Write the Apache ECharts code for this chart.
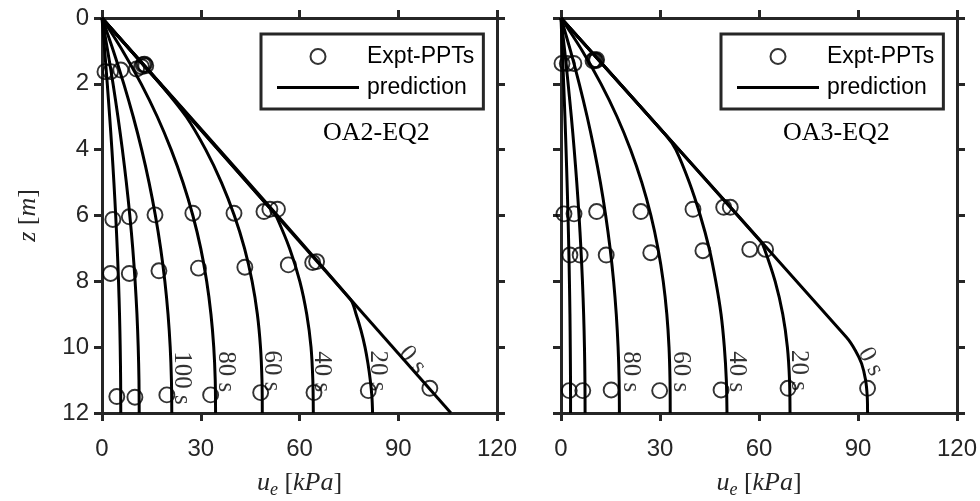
<!DOCTYPE html>
<html>
<head>
<meta charset="utf-8">
<title>Excess pore pressure isochrones</title>
<script src="https://cdn.jsdelivr.net/npm/echarts@6/dist/echarts.min.js"></script>
<style>
  html, body { margin: 0; padding: 0; background: #fff; }
  #chart { width: 980px; height: 501px; }
</style>
</head>
<body>
<div id="chart"></div>
<script>
// axis ticks
const uTicks = [0, 30, 60, 90, 120]
const zTicks = [0, 2, 4, 6, 8, 10, 12]

// ---- OA2-EQ2 (left panel), points are [u_e kPa, z m] ----
const oa2Expt = [
  [0.9, 1.63], [2.6, 1.63], [5.7, 1.58], [10.5, 1.55], [12.0, 1.48], [12.5, 1.42], [12.9, 1.40], [13.3, 1.45],
  [3.3, 6.12], [8.3, 6.04], [16.1, 5.98], [27.6, 5.93], [40.1, 5.93], [49.2, 5.88], [51.0, 5.81], [53.3, 5.81],
  [2.6, 7.76], [8.3, 7.76], [17.3, 7.68], [29.3, 7.60], [43.4, 7.57], [56.6, 7.50], [64.0, 7.43], [65.2, 7.40],
  [4.5, 11.50], [10.0, 11.52], [19.7, 11.45], [33.0, 11.45], [48.2, 11.38], [64.4, 11.38], [80.9, 11.32], [99.6, 11.25]
]
const oa2Pred0 = [[0, 0], [106, 12]]
const oa2Pred20 = [[0, 0], [75.5, 8.55], [77.2, 9], [78.7, 9.5], [79.9, 10], [80.8, 10.5], [81.5, 11], [82.0, 11.5], [82.2, 12]]
const oa2Pred40 = [[0, 0], [52.1, 5.9], [52.85, 6], [57.0, 7], [60.1, 8], [62.2, 9], [63.5, 10], [64.05, 11], [64.2, 12]]
const oa2Pred60 = [[0, 0], [8.83, 1], [17.66, 2], [25.6, 3], [31.5, 4], [36.3, 5], [40.2, 6], [43.3, 7], [45.6, 8], [47.2, 9], [48.15, 10], [48.6, 11], [48.7, 12]]
const oa2Pred80 = [[0, 0], [6.3, 1], [11.9, 2], [16.8, 3], [21.0, 4], [24.6, 5], [27.6, 6], [30.0, 7], [31.8, 8], [33.1, 9], [33.95, 10], [34.4, 11], [34.5, 12]]
const oa2Pred100 = [[0, 0], [3.46, 1], [6.62, 2], [9.49, 3], [12.05, 4], [14.3, 5], [16.22, 6], [17.82, 7], [19.1, 8], [20.06, 9], [20.72, 10], [21.09, 11], [21.2, 12]]
const oa2Pred120 = [[0, 0], [1.73, 1], [3.35, 2], [4.84, 3], [6.19, 4], [7.4, 5], [8.45, 6], [9.34, 7], [10.06, 8], [10.62, 9], [11.0, 10], [11.23, 11], [11.3, 12]]
const oa2Pred140 = [[0, 0], [0.82, 1], [1.6, 2], [2.33, 3], [3.01, 4], [3.62, 5], [4.16, 6], [4.63, 7], [5.02, 8], [5.32, 9], [5.53, 10], [5.66, 11], [5.7, 12]]
const oa2TimeLabels = [['100 s', 24.3, 10.94], ['80 s', 37.6, 10.75], ['60 s', 51.6, 10.72], ['40 s', 66.8, 10.75], ['20 s', 83.7, 10.72], ['0 s', 94.3, 10.39]]

// ---- OA3-EQ2 (right panel) ----
const oa3Expt = [
  [0.3, 1.38], [1.9, 1.38], [3.9, 1.38], [9.7, 1.30], [10.1, 1.27], [10.5, 1.30], [10.8, 1.27],
  [0.9, 5.95], [3.95, 5.95], [10.8, 5.88], [24.2, 5.88], [40.0, 5.81], [49.3, 5.75], [51.3, 5.75],
  [2.7, 7.20], [5.8, 7.20], [13.7, 7.20], [27.2, 7.13], [43.0, 7.07], [57.2, 7.03], [62.0, 7.03],
  [2.5, 11.32], [6.6, 11.32], [15.2, 11.30], [29.9, 11.32], [48.5, 11.30], [68.8, 11.25], [92.9, 11.25]
]
const oa3Pred0 = [[0, 0], [86.5, 9.7], [89.2, 10.1], [91.1, 10.5], [92.3, 11], [92.8, 11.5], [92.9, 12]]
const oa3Pred20 = [[0, 0], [60.6, 6.8], [61.6, 7], [64.9, 8], [67.2, 9], [68.6, 10], [69.25, 11], [69.4, 12]]
const oa3Pred40 = [[0, 0], [32.1, 3.6], [34.8, 4], [38.9, 5], [42.2, 6], [44.9, 7], [46.9, 8], [48.5, 9], [49.5, 10], [50.1, 11], [50.3, 12]]
const oa3Pred60 = [[0, 0], [6.47, 1], [12.12, 2], [16.98, 3], [21.09, 4], [24.5, 5], [27.25, 6], [29.39, 7], [30.98, 8], [32.07, 9], [32.73, 10], [33.03, 11], [33.1, 12]]
const oa3Pred80 = [[0, 0], [2.89, 1], [5.53, 2], [7.93, 3], [10.06, 4], [11.94, 5], [13.54, 6], [14.88, 7], [15.95, 8], [16.75, 9], [17.3, 10], [17.61, 11], [17.7, 12]]
const oa3Pred100 = [[0, 0], [1.12, 1], [2.16, 2], [3.13, 3], [4.0, 4], [4.78, 5], [5.46, 6], [6.03, 7], [6.5, 8], [6.86, 9], [7.11, 10], [7.25, 11], [7.3, 12]]
const oa3Pred120 = [[0, 0], [0.42, 1], [0.81, 2], [1.19, 3], [1.53, 4], [1.84, 5], [2.12, 6], [2.36, 7], [2.55, 8], [2.71, 9], [2.81, 10], [2.88, 11], [2.9, 12]]
const oa3TimeLabels = [['80 s', 20.96, 10.75], ['60 s', 36.2, 10.75], ['40 s', 53.2, 10.75], ['20 s', 72.0, 10.71], ['0 s', 93.8, 10.44]]

const ink = '#262626'
const sans = 'Liberation Sans, Arial, Helvetica, sans-serif'
const serif = 'Liberation Serif, Times New Roman, serif'

let myChart = echarts.init(document.getElementById('chart'), null, { renderer: 'canvas' })

function frameX(grid, position, withText) {
  let ax = {
    type: 'value', gridIndex: grid, position: position,
    min: uTicks[0], max: uTicks[uTicks.length - 1], interval: uTicks[1] - uTicks[0],
    axisLine: { show: true, onZero: false, lineStyle: { color: ink, width: 3, cap: 'square' } },
    axisTick: { show: true, length: 8, lineStyle: { color: ink, width: 3 } },
    axisLabel: { show: withText, margin: 24, color: ink, fontSize: 24, fontFamily: sans },
    splitLine: { show: false }
  }
  if (withText) {
    ax.name = '{i|u}{s|e}{r| [}{i|kPa}{r|]}'
    ax.nameLocation = 'middle'
    ax.nameGap = 55
    ax.nameTextStyle = {
      color: ink, fontFamily: serif, fontSize: 26,
      rich: {
        i: { fontFamily: serif, fontStyle: 'italic', fontSize: 26, lineHeight: 30, color: ink },
        r: { fontFamily: serif, fontSize: 26, lineHeight: 30, color: ink },
        s: { fontFamily: serif, fontStyle: 'italic', fontSize: 18, lineHeight: 30, padding: [14, 0, 0, 0], color: ink }
      }
    }
  }
  return ax
}

function frameY(grid, position, withText, withName) {
  let ax = {
    type: 'value', gridIndex: grid, position: position, inverse: true,
    min: zTicks[0], max: zTicks[zTicks.length - 1], interval: zTicks[1] - zTicks[0],
    axisLine: { show: true, onZero: false, lineStyle: { color: ink, width: 3, cap: 'square' } },
    axisTick: { show: true, length: 8, lineStyle: { color: ink, width: 3 } },
    axisLabel: { show: withText, margin: 13, color: ink, fontSize: 24, fontFamily: sans },
    splitLine: { show: false }
  }
  if (withName) {
    ax.name = '{i|z}{r| [}{i|m}{r|]}'
    ax.nameLocation = 'middle'
    ax.nameGap = 61
    ax.nameTextStyle = {
      color: ink, fontFamily: serif, fontSize: 26,
      rich: {
        i: { fontFamily: serif, fontStyle: 'italic', fontSize: 26, color: ink },
        r: { fontFamily: serif, fontSize: 26, color: ink }
      }
    }
  }
  return ax
}

function exptSeries(data, xi, yi) {
  return {
    name: 'Expt-PPTs', type: 'scatter', xAxisIndex: xi, yAxisIndex: yi,
    symbol: 'circle', symbolSize: 15, z: 4,
    itemStyle: { color: 'rgba(0,0,0,0)', borderColor: '#000', borderWidth: 1.9 },
    data: data
  }
}

function predSeries(data, xi, yi) {
  return {
    name: 'prediction', type: 'line', xAxisIndex: xi, yAxisIndex: yi,
    symbol: 'none', smooth: 0.3, z: 3,
    lineStyle: { color: '#000', width: 3 },
    itemStyle: { color: '#000' },
    data: data
  }
}

function timeLabelSeries(list, xi, yi, slant) {
  return {
    name: 'time', type: 'scatter', xAxisIndex: xi, yAxisIndex: yi,
    symbol: 'circle', symbolSize: 1, silent: true, z: 5,
    itemStyle: { color: 'rgba(0,0,0,0)' },
    label: { show: true, position: 'inside', formatter: '{b}', fontFamily: serif, fontSize: 25, color: '#000' },
    data: list.map(function (d) {
      return { name: d[0], value: [d[1], d[2]], label: { rotate: d[0] === '0 s' ? slant : -90 } }
    })
  }
}

function legendBox(left) {
  return {
    left: left, top: 34, orient: 'vertical',
    selectedMode: false,
    itemWidth: 82, itemHeight: 15, itemGap: 8,
    padding: [11, 9, 10, 16],
    borderColor: ink, borderWidth: 3, borderRadius: 0,
    backgroundColor: '#fff',
    textStyle: { fontFamily: sans, fontSize: 23, color: '#000', padding: [0, 0, 0, 3] },
    data: [
      { name: 'Expt-PPTs', icon: 'circle' },
      { name: 'prediction', icon: 'path://M0 0H82V3H0Z' }
    ]
  }
}

let tagStyle = { fontFamily: serif, fontSize: 26, fontWeight: 'normal', color: '#000' }

let option = {
  animation: false,
  backgroundColor: '#fff',
  title: [
    { text: 'OA2-EQ2', left: 323, top: 120, padding: 0, textStyle: tagStyle },
    { text: 'OA3-EQ2', left: 783, top: 120, padding: 0, textStyle: tagStyle }
  ],
  legend: [legendBox(261), legendBox(721)],
  grid: [
    { left: 102, top: 18, width: 395, height: 395, outerBoundsMode: 'none' },
    { left: 561, top: 18, width: 396, height: 395, outerBoundsMode: 'none' }
  ],
  xAxis: [frameX(0, 'bottom', true), frameX(0, 'top', false), frameX(1, 'bottom', true), frameX(1, 'top', false)],
  yAxis: [frameY(0, 'left', true, true), frameY(0, 'right', false, false), frameY(1, 'left', false, false), frameY(1, 'right', false, false)],
  series: [
    predSeries(oa2Pred0, 0, 0), predSeries(oa2Pred20, 0, 0), predSeries(oa2Pred40, 0, 0),
    predSeries(oa2Pred60, 0, 0), predSeries(oa2Pred80, 0, 0), predSeries(oa2Pred100, 0, 0),
    predSeries(oa2Pred120, 0, 0), predSeries(oa2Pred140, 0, 0),
    exptSeries(oa2Expt, 0, 0),
    timeLabelSeries(oa2TimeLabels, 0, 0, -50),
    predSeries(oa3Pred0, 2, 2), predSeries(oa3Pred20, 2, 2), predSeries(oa3Pred40, 2, 2),
    predSeries(oa3Pred60, 2, 2), predSeries(oa3Pred80, 2, 2), predSeries(oa3Pred100, 2, 2),
    predSeries(oa3Pred120, 2, 2),
    exptSeries(oa3Expt, 2, 2),
    timeLabelSeries(oa3TimeLabels, 2, 2, -62)
  ]
}

myChart.setOption(option)
window.addEventListener('resize', function () {
  myChart.resize()
})
</script>
</body>
</html>
